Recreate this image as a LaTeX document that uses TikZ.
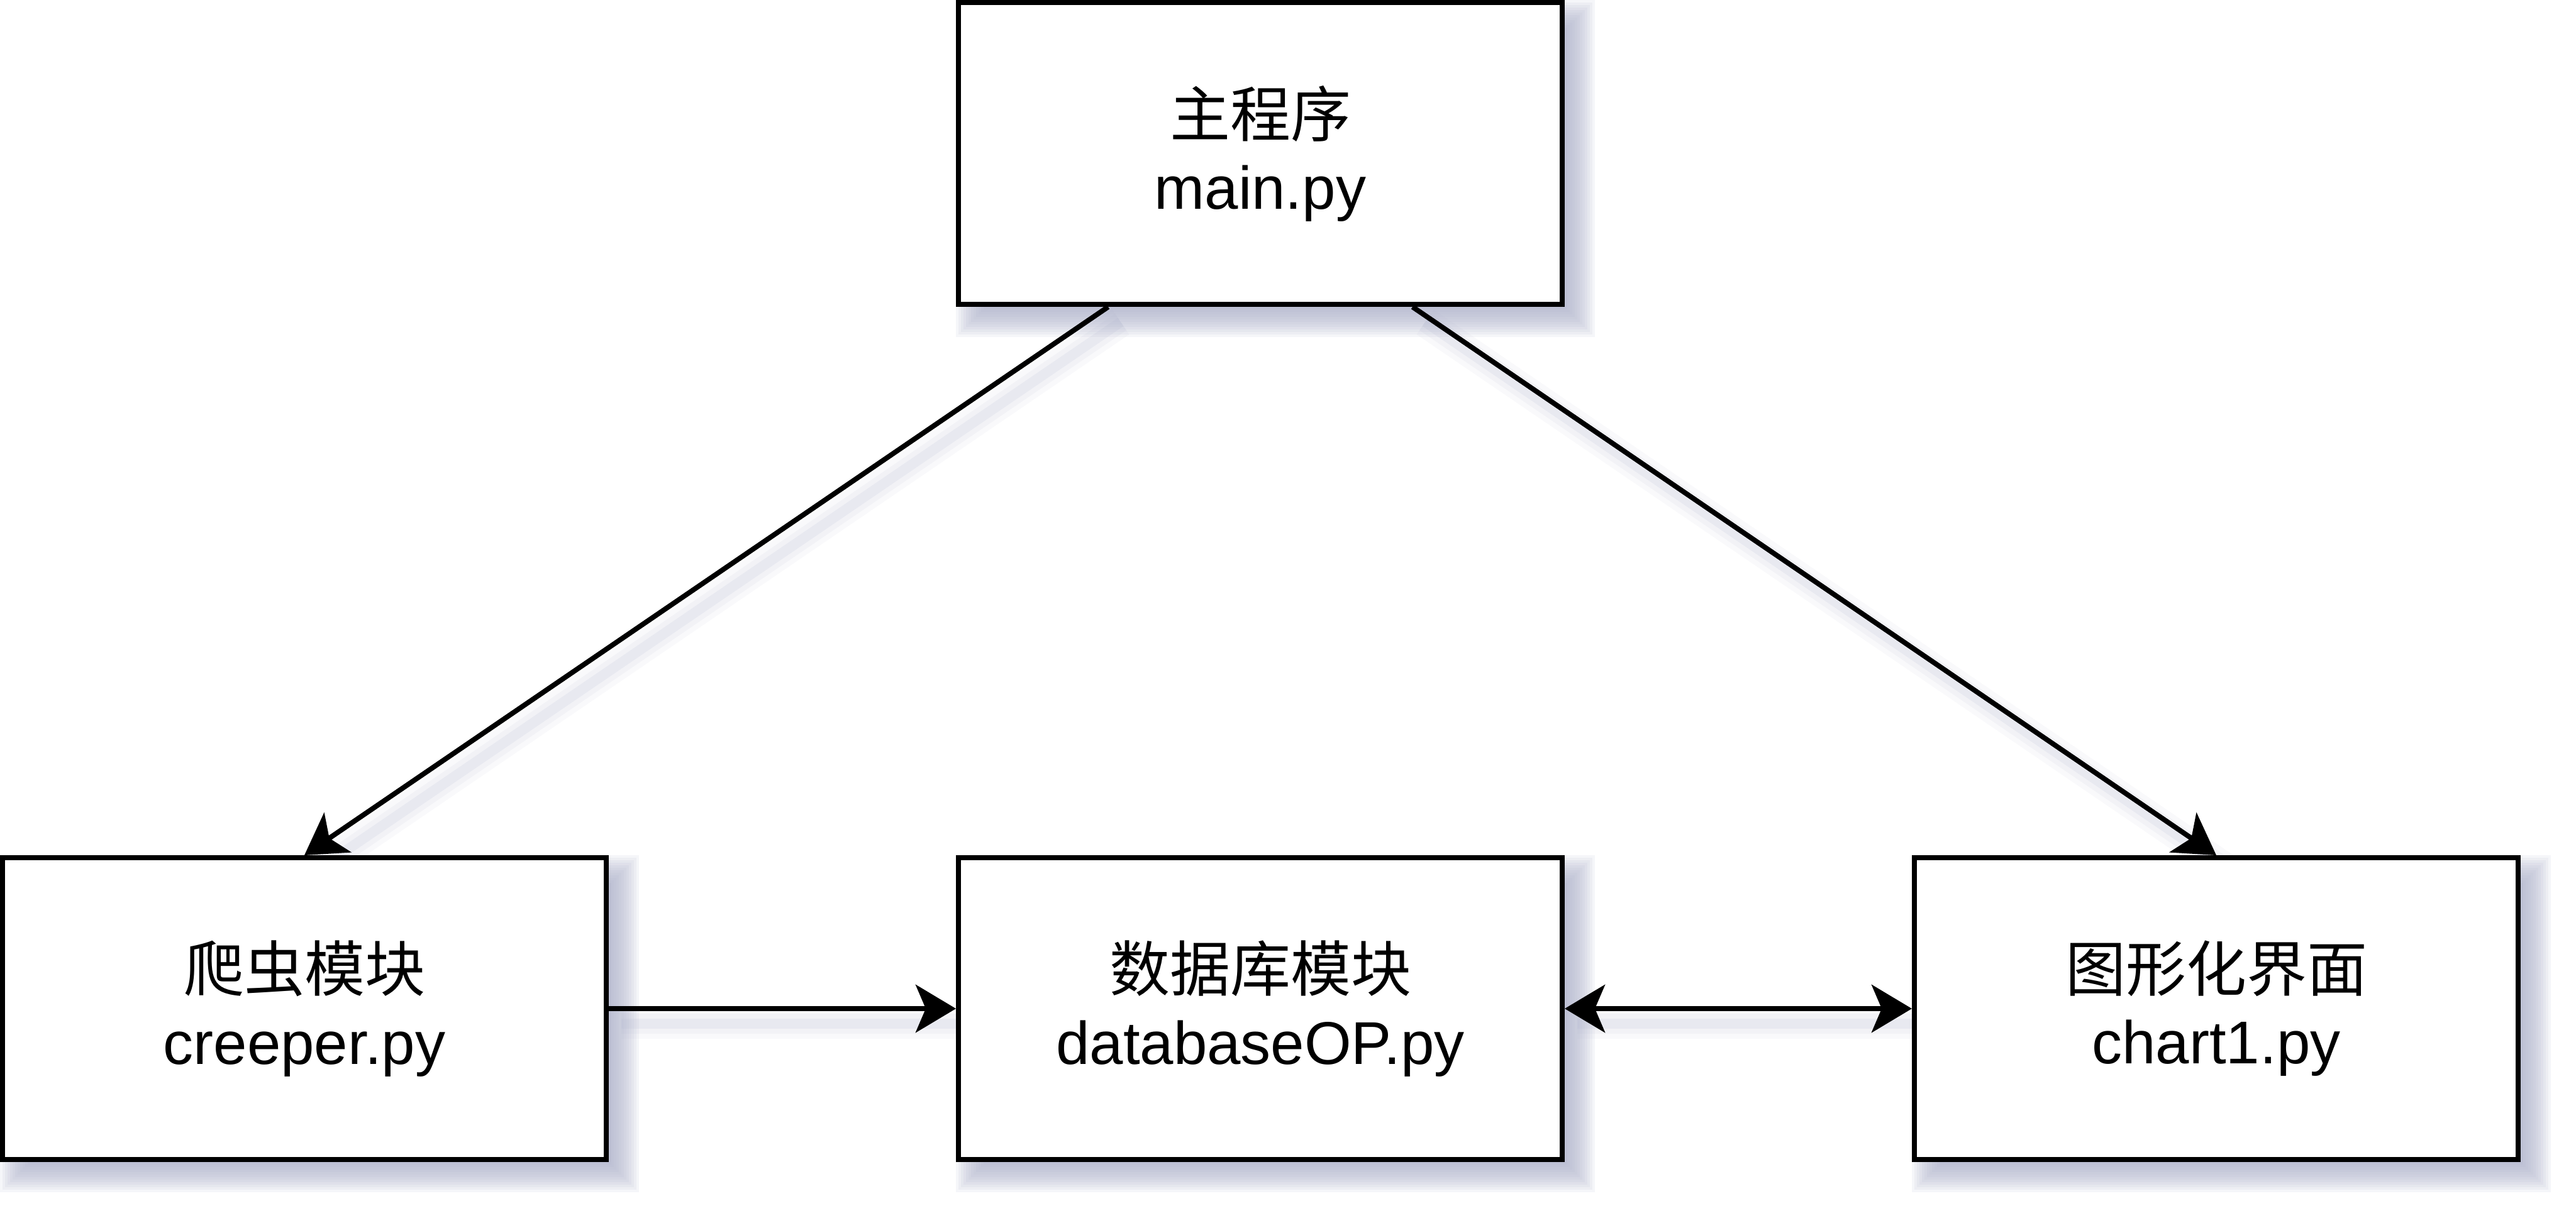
\documentclass[tikz,border=0pt]{standalone}
\usepackage{fontspec}
\setmainfont{Liberation Sans}
\newfontfamily\cjk{Noto Sans CJK SC}
\usetikzlibrary{arrows.meta,calc}
\definecolor{shc}{RGB}{168,172,198}
\pgfdeclarelayer{bg}
\pgfsetlayers{bg,main}
\tikzset{
  box/.style={draw=black, line width=1pt, fill=white, minimum width=120pt,
    minimum height=60pt, inner sep=0pt, align=center,
    font=\fontsize{12pt}{14.4pt}\selectfont},
  tipc/.tip={Stealth[length=8pt,width=9.5pt,inset=2pt]},
  conn/.style={line width=1pt, -tipc},
  biconn/.style={line width=1pt, tipc-tipc},
  shline/.style={shc, line width=#1},
}
\begin{document}
\begin{tikzpicture}[x=1pt,y=-1pt]
\useasboundingbox (0,0) rectangle (512,242);
\node[box] (main)  at (250.5,30.5)  {{\cjk 主程序}\\main.py};
\node[box] (crp)   at (60.5,200.5)  {{\cjk 爬虫模块}\\creeper.py};
\node[box] (db)    at (250.5,200.5) {{\cjk 数据库模块}\\databaseOP.py};
\node[box] (chart) at (440.5,200.5) {{\cjk 图形化界面}\\chart1.py};
\coordinate (m1) at ($(main.south west)!0.25!(main.south east)$);
\coordinate (m2) at ($(main.south west)!0.75!(main.south east)$);
\begin{pgfonlayer}{bg}
  % box shadows
  \foreach \n in {main,crp,db,chart}{
    \foreach \r in {-2.5,-2,...,3}{
      \fill[shc, opacity=0.11]
        ($(\n.north west)+(3-\r,3-\r)$) rectangle ($(\n.south east)+(3+\r,3+\r)$);
    }
  }
  % edge shadows
  \begin{scope}[transform canvas={shift={(2.5pt,-3pt)}}]
    \foreach \w/\o in {6pt/0.07,4pt/0.09,2pt/0.13}{
      \draw[shline=\w, opacity=\o] (m1) -- (crp.north);
      \draw[shline=\w, opacity=\o] (m2) -- (chart.north);
      \draw[shline=\w, opacity=\o] (crp.east) -- (db.west);
      \draw[shline=\w, opacity=\o] (db.east) -- (chart.west);
    }
  \end{scope}
  % connectors
  \draw[conn] (m1) -- (crp.north);
  \draw[conn] (m2) -- (chart.north);
  \draw[conn] (crp.east) -- (db.west);
  \draw[biconn] (db.east) -- (chart.west);
\end{pgfonlayer}
\end{tikzpicture}
\end{document}
